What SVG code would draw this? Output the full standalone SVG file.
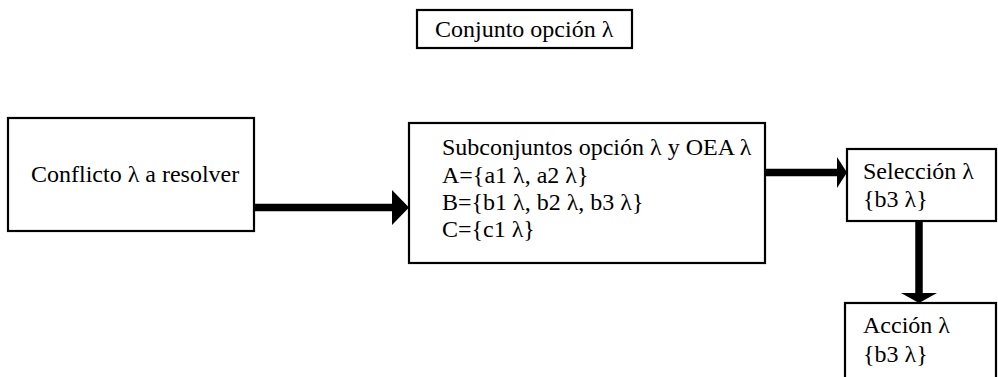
<svg xmlns="http://www.w3.org/2000/svg" width="998" height="377" viewBox="0 0 998 377">
<style>
.box{fill:#fff;stroke:#000;stroke-width:2.2}
.t{font-size:24px;fill:#000}
.conn{stroke:#000;stroke-width:7.5;fill:none}
.head{fill:#000}
</style>
<rect width="998" height="377" fill="#fff"/>
<g font-family="Liberation Serif">
<g id="n_conjunto">
<rect class="box" x="417" y="10" width="215" height="38"/>
<text class="t" x="435" y="37">Conjunto opción λ</text>
</g>
<g id="n_conflicto">
<rect class="box" x="8" y="118" width="246" height="113"/>
<text class="t" x="31" y="182">Conflicto λ a resolver</text>
</g>
<g id="n_subconjuntos">
<rect class="box" x="409" y="123" width="356" height="140"/>
<text class="t" x="442" y="155">Subconjuntos opción λ y OEA λ</text>
<text class="t" x="442" y="183">A={a1 λ, a2 λ}</text>
<text class="t" x="442" y="210">B={b1 λ, b2 λ, b3 λ}</text>
<text class="t" x="442" y="237">C={c1 λ}</text>
</g>
<g id="n_seleccion">
<rect class="box" x="847" y="149" width="149" height="72"/>
<text class="t" x="863" y="179">Selección λ</text>
<text class="t" x="863" y="207">{b3 λ}</text>
</g>
<g id="n_accion">
<rect class="box" x="845" y="303" width="151" height="90"/>
<text class="t" x="863" y="333">Acción λ</text>
<text class="t" x="863" y="362">{b3 λ}</text>
</g>
</g>
<g id="connectors">
<line class="conn" x1="254" y1="207.5" x2="393" y2="207.5"/>
<polygon class="head" points="392,190 409,207.5 392,225"/>
<line class="conn" x1="765" y1="172.5" x2="838" y2="172.5"/>
<polygon class="head" points="837,157 847,172.5 837,188"/>
<line class="conn" x1="919" y1="222" x2="919" y2="294"/>
<polygon class="head" points="901,293 937,293 919,303"/>
</g>
</svg>
